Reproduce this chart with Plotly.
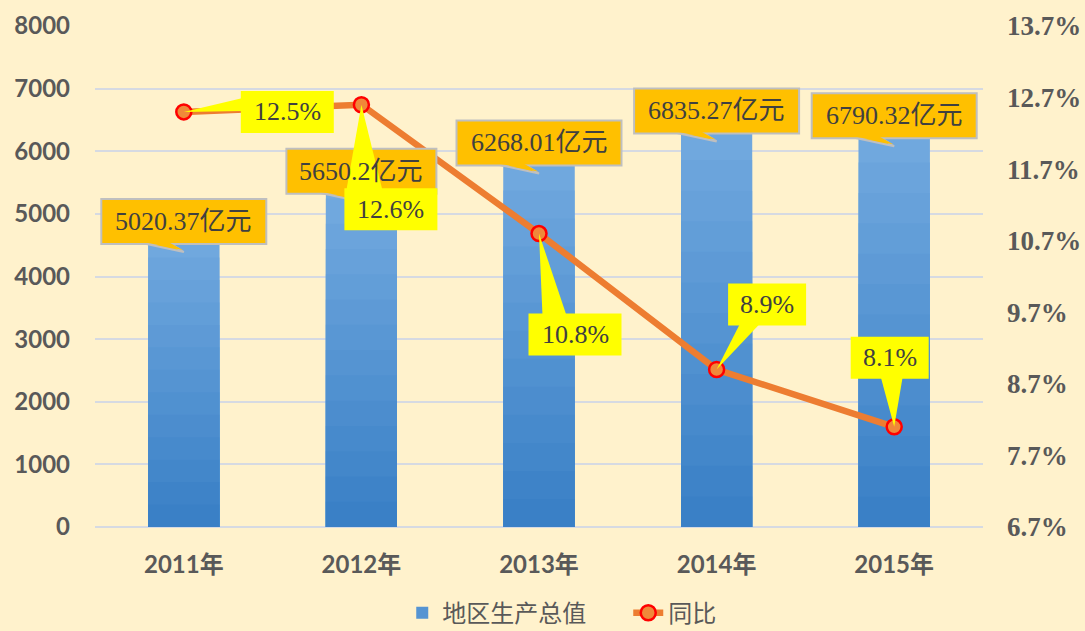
import plotly.graph_objects as go

# ---------------- data ----------------
categories = ["2011年", "2012年", "2013年", "2014年", "2015年"]
gdp_values = [5020.37, 5650.2, 6268.01, 6835.27, 6790.32]   # 亿元
growth_pct = [12.5, 12.6, 10.8, 8.9, 8.1]                  # %
left_tickvals = [0, 1000, 2000, 3000, 4000, 5000, 6000, 7000, 8000]
right_tickvals = [6.7, 7.7, 8.7, 9.7, 10.7, 11.7, 12.7, 13.7]
right_ticktext = ["6.7%", "7.7%", "8.7%", "9.7%", "10.7%", "11.7%", "12.7%", "13.7%"]
series_names = ["地区生产总值", "同比"]

# ---------------- label layout (pixel offsets from the data point) ----------------
gdp_label_dy = [-9, 2, -8.5, -12, -14]
pct_label_offset = [(103.5, 0), (29.5, -104.5), (36, -101), (50.5, 65), (-4.5, 69)]
pct_pointer = [("left", 7, 20), ("top", 2, 38), ("top", 14, 38), ("bottom", 12, 32), ("bottom", 30, 52)]

BG = "#FFF2CC"
TXT = "#595959"
LBL = "#404040"
GOLD = "#FFC000"
YEL = "#FFFF00"
BORDER = "#BFBFBF"

fig = go.Figure()

# gradient bars (stacked overlays, light at top -> dark at bottom)
N = 14
light = (116, 171, 224)
dark = (58, 128, 198)
for k in range(N):
    t = k / (N - 1)
    col = "rgb(%d,%d,%d)" % tuple(round(light[i] + (dark[i] - light[i]) * t) for i in range(3))
    frac = (N - k) / N
    fig.add_trace(go.Bar(
        x=categories, y=[v * frac for v in gdp_values], width=0.4,
        marker=dict(color=col, line=dict(width=0)),
        name=series_names[0], showlegend=(k == N // 2), legendrank=1,
        hoverinfo="skip",
    ))

fig.add_trace(go.Scatter(
    x=categories, y=growth_pct, yaxis="y2", mode="lines+markers",
    line=dict(color="#ED7D31", width=6.5),
    marker=dict(size=15, color="#F0883A", line=dict(color="#FF0000", width=2.5)),
    name=series_names[1], legendrank=2,
))

shapes = []
annots = []
label_font = dict(family="Liberation Serif, Noto Sans CJK SC", size=26, color=LBL)

# GDP value callouts
for cat, v, dy in zip(categories, gdp_values, gdp_label_dy):
    s = f"{v:g}"
    w = 15 * len(s) + 60
    h = 45
    L, R, T, B = -w / 2, w / 2, dy + h / 2, dy - h / 2
    common = dict(xref="x", yref="y", xsizemode="pixel", ysizemode="pixel",
                  xanchor=cat, yanchor=v, layer="above")
    shapes.append(dict(type="path", path=f"M {-42},{B + 1} L 0,{B - 8} L {-14},{B + 1} Z",
                       fillcolor=GOLD, line=dict(color=BORDER, width=2), **common))
    shapes.append(dict(type="rect", x0=L, x1=R, y0=B, y1=T,
                       fillcolor=GOLD, line=dict(color=BORDER, width=2), **common))
    shapes.append(dict(type="path", path=f"M {-40.5},{B + 2} L -1,{B - 6} L {-15.5},{B + 2} Z",
                       fillcolor=GOLD, line=dict(width=0), **common))
    annots.append(dict(x=cat, y=v, xref="x", yref="y", yshift=dy, showarrow=False,
                       text=s + "亿元", font=label_font))

# growth-rate callouts
for cat, p, (dx, dy), (side, a, b) in zip(categories, growth_pct, pct_label_offset, pct_pointer):
    s = f"{p}"
    w = 15 * len(s) + 33
    h = 42
    L, R, T, B = dx - w / 2, dx + w / 2, dy + h / 2, dy - h / 2
    common = dict(xref="x", yref="y2", xsizemode="pixel", ysizemode="pixel",
                  xanchor=cat, yanchor=p, layer="above")
    if side == "left":
        path = f"M {L + 2},{T - a} L 0,0 L {L + 2},{T - b} Z"
    elif side == "top":
        path = f"M {L + a},{T - 2} L 0,0 L {L + b},{T - 2} Z"
    else:
        path = f"M {L + a},{B + 2} L 0,0 L {L + b},{B + 2} Z"
    shapes.append(dict(type="path", path=path, fillcolor=YEL, line=dict(width=0), **common))
    shapes.append(dict(type="rect", x0=L, x1=R, y0=B, y1=T, fillcolor=YEL,
                       line=dict(width=0), **common))
    annots.append(dict(x=cat, y=p, xref="x", yref="y2", xshift=dx, yshift=dy, showarrow=False,
                       text=s + "%", font=label_font))

fig.update_layout(
    width=1085, height=631,
    margin=dict(l=95, r=102, t=26, b=104, autoexpand=False),
    paper_bgcolor=BG, plot_bgcolor=BG,
    barmode="overlay",
    shapes=shapes, annotations=annots,
    legend=dict(orientation="h", xref="paper", yref="paper",
                x=0.346, xanchor="left", y=-0.172, yanchor="middle",
                entrywidth=181, entrywidthmode="pixels",
                font=dict(family="Noto Sans CJK SC", size=24, color=TXT),
                bgcolor="rgba(0,0,0,0)"),
    xaxis=dict(type="category", showgrid=False, showline=False, ticks="", automargin=False,
               tickfont=dict(family="Lato, Noto Sans CJK SC", size=24, color=TXT, weight="bold"),
               ticklabelstandoff=21),
    yaxis=dict(range=[0, 8000], tickvals=left_tickvals, showgrid=True, automargin=False,
               gridcolor="#D6DAE2", gridwidth=1.5, zeroline=True, zerolinecolor="#D6DAE2",
               zerolinewidth=1.5, showline=False, ticks="",
               tickfont=dict(family="Lato", size=24, color=TXT, weight="bold"),
               ticklabelstandoff=24),
    yaxis2=dict(range=[6.7, 13.7], tickvals=right_tickvals, ticktext=right_ticktext,
                overlaying="y", side="right", showgrid=False, zeroline=False, showline=False,
                ticks="", automargin=False,
                tickfont=dict(family="Liberation Serif", size=27, color=TXT, weight="bold"),
                ticklabelstandoff=23),
    hovermode=False,
)

fig.write_html("out.html", config={"displayModeBar": False},
               post_script="document.body.style.margin='0';")
